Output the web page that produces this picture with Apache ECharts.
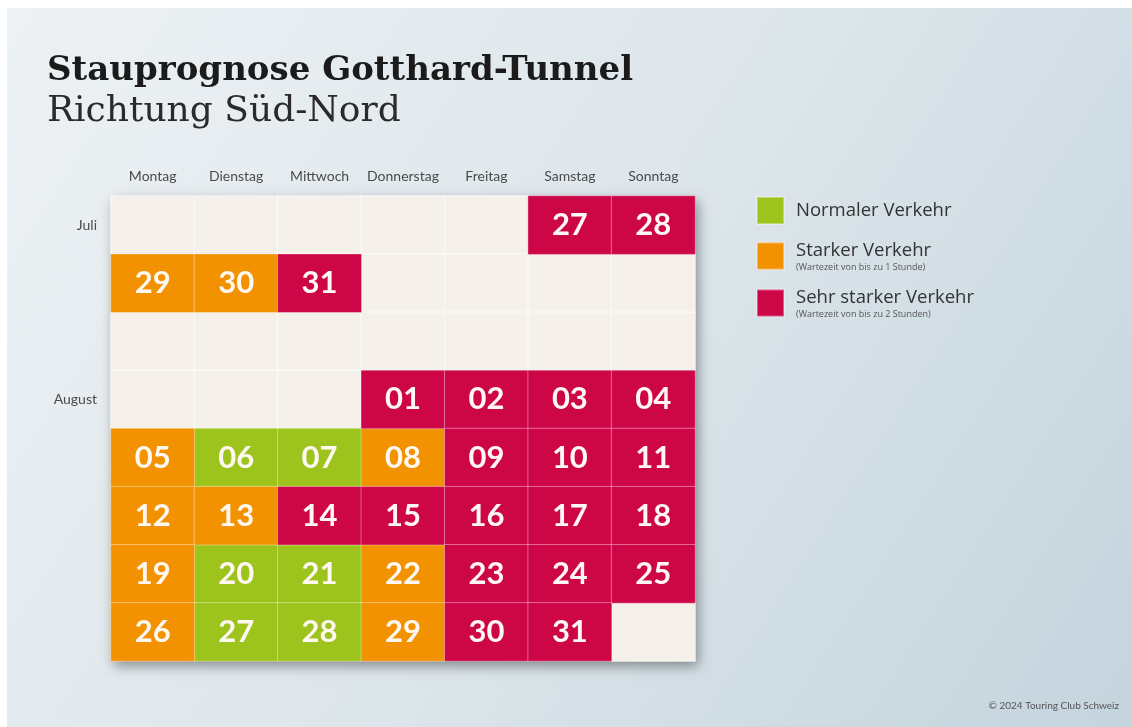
<!DOCTYPE html>
<html>
<head>
<meta charset="utf-8">
<script src="https://cdn.jsdelivr.net/npm/echarts@6/dist/echarts.min.js"></script>
<style>
  html, body { margin: 0; padding: 0; background: #fff; }
  #chart { width: 1132px; height: 727px; }
</style>
</head>
<body>
<div id="chart"></div>
<script>
// Calendar grid: weekday columns, week rows (Juli / August)
const weekdays = ['Montag', 'Dienstag', 'Mittwoch', 'Donnerstag', 'Freitag', 'Samstag', 'Sonntag']
const rowLabels = ['Juli', '', '', 'August', '', '', '', '']

// day number shown in each cell ('' = empty)
const dayLabels = [
  ['', '', '', '', '', '27', '28'],
  ['29', '30', '31', '', '', '', ''],
  ['', '', '', '', '', '', ''],
  ['', '', '', '01', '02', '03', '04'],
  ['05', '06', '07', '08', '09', '10', '11'],
  ['12', '13', '14', '15', '16', '17', '18'],
  ['19', '20', '21', '22', '23', '24', '25'],
  ['26', '27', '28', '29', '30', '31', ''],
]

// 0 = kein Eintrag, 1 = normal, 2 = stark, 3 = sehr stark
const levels = [
  [0, 0, 0, 0, 0, 3, 3],
  [2, 2, 3, 0, 0, 0, 0],
  [0, 0, 0, 0, 0, 0, 0],
  [0, 0, 0, 3, 3, 3, 3],
  [2, 1, 1, 2, 3, 3, 3],
  [2, 2, 3, 3, 3, 3, 3],
  [2, 1, 1, 2, 3, 3, 3],
  [2, 1, 1, 2, 3, 3, 0],
]

const levelNames = ['', 'Normaler Verkehr', 'Starker Verkehr', 'Sehr starker Verkehr']
const levelNotes = ['', '', '(Wartezeit von bis zu 1 Stunde)', '(Wartezeit von bis zu 2 Stunden)']

const COL_EMPTY = '#f5f1ea'
const COL_LEVEL = [COL_EMPTY, '#9dc41c', '#f39200', '#cd0648']
const FONT = 'Lato, "Open Sans", sans-serif'
const FONT_LEGEND = '"Open Sans", Lato, sans-serif'

function cellsFor(level) {
  const out = []
  levels.forEach((row, r) => row.forEach((lv, c) => {
    if (lv === level) out.push([c, r, lv, dayLabels[r][c]])
  }))
  return out
}

function makeSeries(level) {
  return {
    name: levelNames[level] || 'leer',
    type: 'heatmap',
    data: cellsFor(level),
    itemStyle: {
      color: COL_LEVEL[level],
      borderColor: level ? 'rgba(255,255,255,0.35)' : 'rgba(255,255,255,0.7)',
      borderWidth: 1,
    },
    label: {
      show: true,
      formatter: (p) => p.value[3],
      color: '#fff8f2',
      fontFamily: FONT,
      fontWeight: 'bold',
      fontSize: 31,
    },
    emphasis: { disabled: true },
  }
}

const chart = echarts.init(document.getElementById('chart'))

chart.setOption({
  animation: false,
  graphic: [
    {
      type: 'rect',
      z: -10,
      silent: true,
      shape: { x: 7, y: 8, width: 1125, height: 719 },
      style: {
        fill: new echarts.graphic.LinearGradient(0, 0, 1, 1, [
          { offset: 0, color: '#edf1f4' },
          { offset: 0.5, color: '#dde6eb' },
          { offset: 1, color: '#c4d4dd' },
        ]),
      },
    },
    {
      type: 'text',
      right: 13,
      bottom: 16,
      style: {
        text: '© 2024 Touring Club Schweiz',
        fill: '#555',
        fontSize: 10,
        fontFamily: FONT,
      },
    },
  ],
  title: {
    text: 'Stauprognose Gotthard-Tunnel',
    subtext: 'Richtung Süd-Nord',
    left: 42,
    top: 49,
    itemGap: 6,
    textStyle: {
      fontFamily: '"DejaVu Serif", serif',
      fontWeight: 'bold',
      fontSize: 34,
      color: '#1b1b1b',
    },
    subtextStyle: {
      fontFamily: '"DejaVu Serif", serif',
      fontWeight: 'normal',
      fontSize: 36,
      color: '#2a2a2a',
    },
  },
  legend: {
    data: levelNames.slice(1),
    orient: 'vertical',
    left: 751,
    top: 191,
    icon: 'rect',
    itemWidth: 27,
    itemHeight: 27,
    itemGap: 16,
    selectedMode: false,
    formatter: (name) => {
      const note = levelNotes[levelNames.indexOf(name)]
      return note ? `{t|${name}}\n{s|${note}}` : `{t|${name}}`
    },
    textStyle: {
      rich: {
        t: { fontFamily: FONT_LEGEND, fontSize: 18.5, color: '#333', lineHeight: 23, padding: [0, 0, 0, 7] },
        s: { fontFamily: FONT_LEGEND, fontSize: 9, color: '#555', lineHeight: 11, padding: [0, 0, 0, 7] },
      },
    },
  },
  grid: {
    left: 111,
    right: 437,
    top: 196,
    bottom: 66,
    show: true,
    backgroundColor: COL_EMPTY,
    borderWidth: 0,
    shadowBlur: 12,
    shadowColor: 'rgba(0,0,0,0.4)',
    shadowOffsetX: 3,
    shadowOffsetY: 5,
  },
  xAxis: {
    type: 'category',
    position: 'top',
    data: weekdays,
    axisLine: { show: false },
    axisTick: { show: false },
    splitLine: { show: false },
    axisLabel: { interval: 0, color: '#4a4a4a', fontSize: 14, fontFamily: FONT, margin: 13 },
  },
  yAxis: {
    type: 'category',
    inverse: true,
    data: rowLabels,
    axisLine: { show: false },
    axisTick: { show: false },
    splitLine: { show: false },
    axisLabel: { interval: 0, color: '#4a4a4a', fontSize: 14, fontFamily: FONT, margin: 14 },
  },
  series: [0, 1, 2, 3].map(makeSeries),
})
</script>
</body>
</html>
